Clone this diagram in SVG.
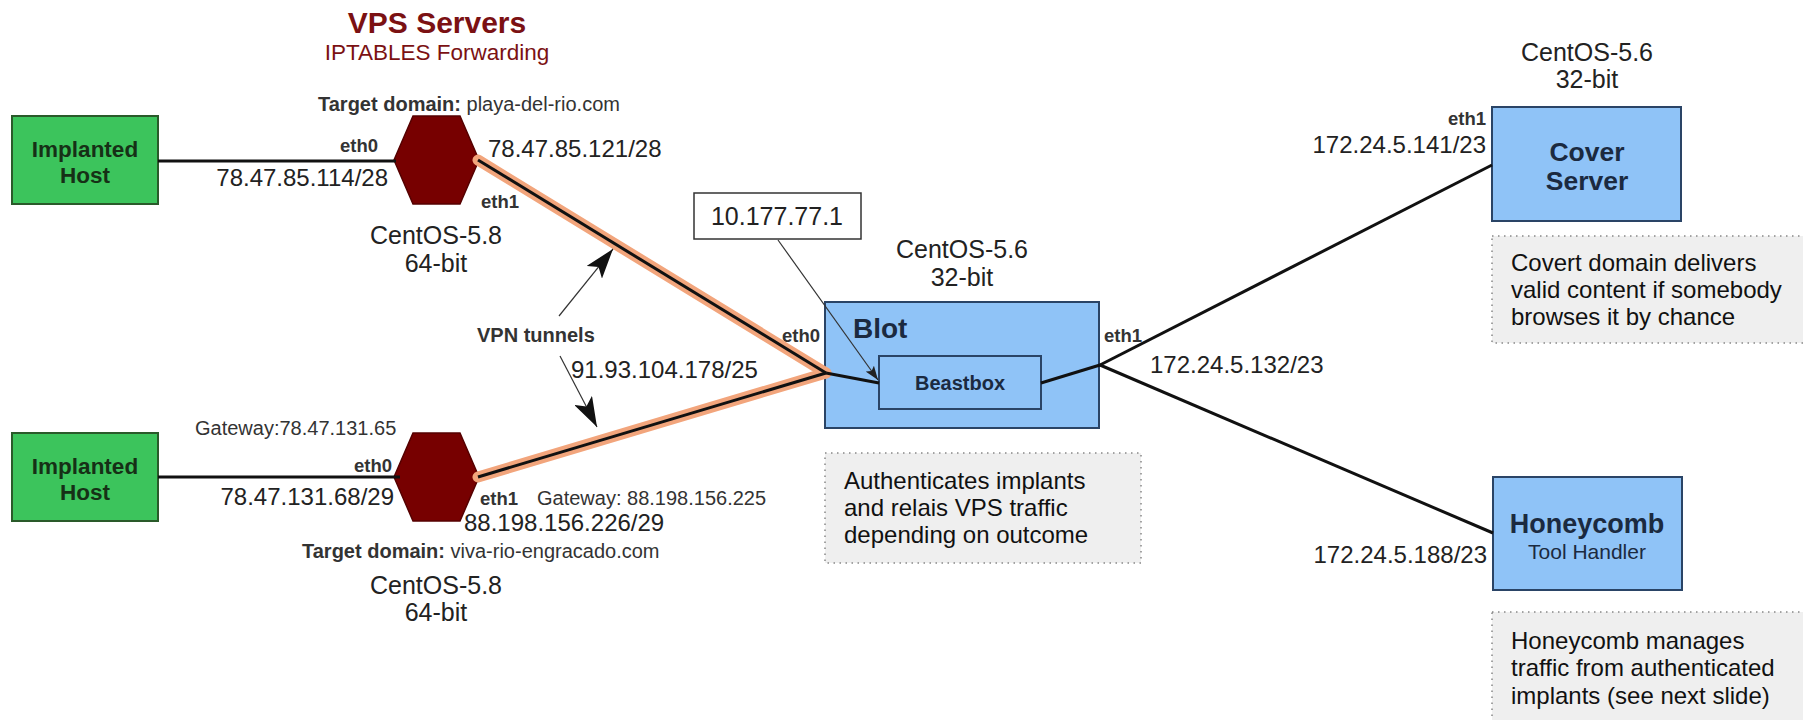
<svg xmlns="http://www.w3.org/2000/svg" width="1803" height="720" viewBox="0 0 1803 720">
  <defs>
    <style>
      text { font-family: "Liberation Sans", Arial, sans-serif; fill: #222; }
      .title { font-size: 30px; font-weight: bold; fill: #7b1113; }
      .sub { font-size: 22.5px; fill: #7b1113; }
      .ip { font-size: 24px; }
      .os { font-size: 25px; }
      .eth { font-size: 18.5px; font-weight: bold; fill: #333; }
      .small { font-size: 20px; fill: #333; }
      .b { font-weight: bold; }
      .note { font-size: 24px; fill: #111; }
      .host { fill: #3cc45c; stroke: #2a5a2a; stroke-width: 2; }
      .hosttxt { font-size: 22.5px; font-weight: bold; fill: #163016; }
      .hex { fill: #770000; stroke: #550000; stroke-width: 1.5; }
      .srv { fill: #8fc3f7; stroke: #2a4466; stroke-width: 2; }
      .srvtxt { font-weight: bold; fill: #1b2a40; }
      .notebox { fill: #efefef; stroke: #888; stroke-width: 1.5; stroke-dasharray: 1.5 4.5; }
      .wire { stroke: #111; stroke-width: 3; fill: none; }
      .glow { stroke: #f2a57c; stroke-width: 11; fill: none; stroke-linecap: round; }
      .thin { stroke: #333; stroke-width: 1.2; fill: none; }
    </style>
    <marker id="bigArrow" viewBox="0 0 30 20" refX="30" refY="10" markerWidth="30" markerHeight="20" markerUnits="userSpaceOnUse" orient="auto">
      <path d="M0,0 L30,10 L0,20 L7,10 Z" fill="#111"/>
    </marker>
    <marker id="smallArrow" viewBox="0 0 14 10" refX="14" refY="5" markerWidth="14" markerHeight="10" markerUnits="userSpaceOnUse" orient="auto">
      <path d="M0,0 L14,5 L0,10 L3,5 Z" fill="#222"/>
    </marker>
  </defs>
  <rect width="1803" height="720" fill="#ffffff"/>

  <!-- Titles -->
  <g id="title">
    <text class="title" x="437" y="33" text-anchor="middle">VPS Servers</text>
    <text class="sub" x="437" y="60" text-anchor="middle">IPTABLES Forwarding</text>
  </g>

  <!-- Implanted hosts -->
  <g id="host1">
    <rect class="host" x="12" y="116" width="146" height="88"/>
    <text class="hosttxt" x="85" y="157" text-anchor="middle">Implanted</text>
    <text class="hosttxt" x="85" y="183" text-anchor="middle">Host</text>
  </g>
  <g id="host2">
    <rect class="host" x="12" y="433" width="146" height="88"/>
    <text class="hosttxt" x="85" y="474" text-anchor="middle">Implanted</text>
    <text class="hosttxt" x="85" y="500" text-anchor="middle">Host</text>
  </g>

  <!-- VPS 1 -->
  <g id="vps1">
    <polygon class="hex" points="394,160 413,116 460,116 479,160 460,204 413,204"/>
    <text class="small" x="318" y="111"><tspan class="b">Target domain:</tspan> playa-del-rio.com</text>
    <text class="eth" x="378" y="152" text-anchor="end">eth0</text>
    <text class="ip" x="388" y="186" text-anchor="end">78.47.85.114/28</text>
    <text class="ip" x="488" y="157">78.47.85.121/28</text>
    <text class="eth" x="481" y="208">eth1</text>
    <text class="os" x="436" y="244" text-anchor="middle">CentOS-5.8</text>
    <text class="os" x="436" y="272" text-anchor="middle">64-bit</text>
  </g>

  <!-- VPS 2 -->
  <g id="vps2">
    <polygon class="hex" points="394,477 413,433 460,433 479,477 460,521 413,521"/>
    <text class="small" x="195" y="435">Gateway:78.47.131.65</text>
    <text class="eth" x="392" y="472" text-anchor="end">eth0</text>
    <text class="ip" x="394" y="505" text-anchor="end">78.47.131.68/29</text>
    <text class="eth" x="480" y="505">eth1</text>
    <text class="small" x="537" y="505">Gateway: 88.198.156.225</text>
    <text class="ip" x="464" y="531">88.198.156.226/29</text>
    <text class="small" x="302" y="558"><tspan class="b">Target domain:</tspan> viva-rio-engracado.com</text>
    <text class="os" x="436" y="594" text-anchor="middle">CentOS-5.8</text>
    <text class="os" x="436" y="621" text-anchor="middle">64-bit</text>
  </g>

  <!-- VPN label -->
  <g id="vpn">
    <text class="eth" x="477" y="342" style="font-size:20px">VPN tunnels</text>
    <text class="ip" x="571" y="378">91.93.104.178/25</text>
  </g>

  <!-- 10.177.77.1 -->
  <g id="ipbox">
    <rect x="694" y="193" width="167" height="46" fill="#ffffff" stroke="#333" stroke-width="1.5"/>
    <text class="ip" x="777" y="225" text-anchor="middle" style="font-size:25px">10.177.77.1</text>
  </g>

  <!-- Blot -->
  <g id="blot">
    <text class="os" x="962" y="258" text-anchor="middle">CentOS-5.6</text>
    <text class="os" x="962" y="286" text-anchor="middle">32-bit</text>
    <rect class="srv" x="825" y="302" width="274" height="126"/>
    <text class="srvtxt" x="853" y="338" style="font-size:28px">Blot</text>
    <text class="eth" x="820" y="342" text-anchor="end">eth0</text>
    <text class="eth" x="1104" y="342">eth1</text>
    <text class="ip" x="1150" y="373">172.24.5.132/23</text>
  </g>
  <g id="beastbox">
    <rect class="srv" x="879" y="356" width="162" height="53"/>
    <text class="srvtxt" x="960" y="390" text-anchor="middle" style="font-size:20px">Beastbox</text>
  </g>
  <g id="note-blot">
    <rect class="notebox" x="825" y="453" width="316" height="110"/>
    <text class="note" x="844" y="489">Authenticates implants</text>
    <text class="note" x="844" y="516">and relais VPS traffic</text>
    <text class="note" x="844" y="543">depending on outcome</text>
  </g>

  <!-- Cover Server -->
  <g id="cover">
    <text class="os" x="1587" y="61" text-anchor="middle">CentOS-5.6</text>
    <text class="os" x="1587" y="88" text-anchor="middle">32-bit</text>
    <text class="eth" x="1486" y="125" text-anchor="end">eth1</text>
    <text class="ip" x="1486" y="153" text-anchor="end">172.24.5.141/23</text>
    <rect class="srv" x="1492" y="107" width="189" height="114"/>
    <text class="srvtxt" x="1587" y="161" text-anchor="middle" style="font-size:26.5px">Cover</text>
    <text class="srvtxt" x="1587" y="190" text-anchor="middle" style="font-size:26.5px">Server</text>
  </g>
  <g id="note-cover">
    <rect class="notebox" x="1492" y="236" width="330" height="107"/>
    <text class="note" x="1511" y="271">Covert domain delivers</text>
    <text class="note" x="1511" y="298">valid content if somebody</text>
    <text class="note" x="1511" y="325">browses it by chance</text>
  </g>

  <!-- Honeycomb -->
  <g id="honeycomb">
    <rect class="srv" x="1493" y="477" width="189" height="113"/>
    <text class="srvtxt" x="1587" y="533" text-anchor="middle" style="font-size:27px">Honeycomb</text>
    <text x="1587" y="559" text-anchor="middle" style="font-size:21px;fill:#1b2a40">Tool Handler</text>
    <text class="ip" x="1487" y="563" text-anchor="end">172.24.5.188/23</text>
  </g>
  <g id="note-honeycomb">
    <rect class="notebox" x="1492" y="612" width="330" height="130"/>
    <text class="note" x="1511" y="649">Honeycomb manages</text>
    <text class="note" x="1511" y="676">traffic from authenticated</text>
    <text class="note" x="1511" y="704">implants (see next slide)</text>
  </g>

  <!-- Connectors -->
  <g id="connectors">
    <line class="wire" x1="158" y1="161" x2="396" y2="161"/>
    <line class="wire" x1="158" y1="477" x2="400" y2="477"/>
    <line class="glow" x1="478" y1="160" x2="826" y2="373"/>
    <line class="glow" x1="478" y1="477" x2="826" y2="373"/>
    <line class="wire" x1="478" y1="160" x2="826" y2="373"/>
    <line class="wire" x1="478" y1="477" x2="826" y2="373"/>
    <line class="wire" x1="826" y1="373" x2="879" y2="383"/>
    <line class="wire" x1="1041" y1="383" x2="1100" y2="365"/>
    <line class="wire" x1="1100" y1="365" x2="1492" y2="165"/>
    <line class="wire" x1="1100" y1="365" x2="1493" y2="533"/>
    <line class="thin" x1="778" y1="240" x2="878" y2="380" marker-end="url(#smallArrow)"/>
    <line class="thin" x1="559" y1="316" x2="613" y2="249" marker-end="url(#bigArrow)"/>
    <line class="thin" x1="560" y1="356" x2="597" y2="427" marker-end="url(#bigArrow)"/>
  </g>
</svg>
